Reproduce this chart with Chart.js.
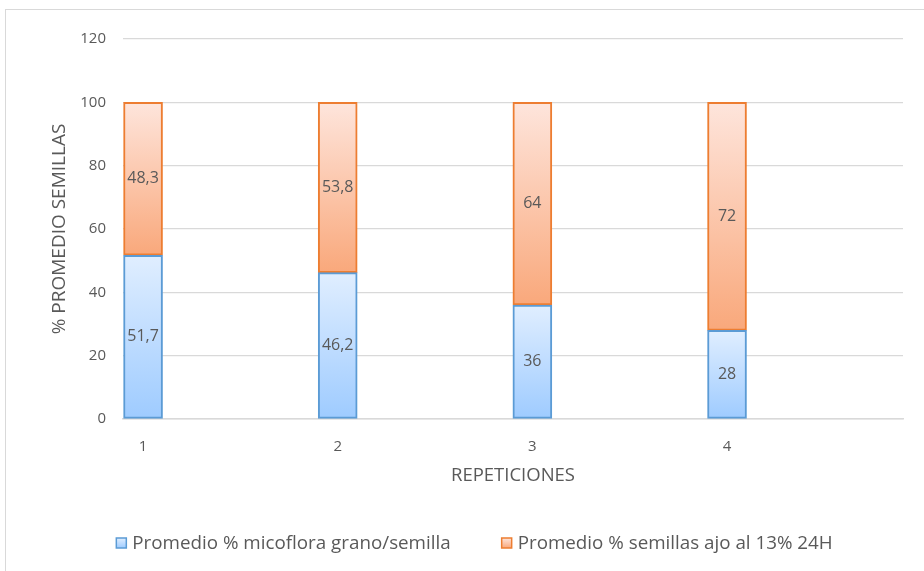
<!DOCTYPE html>
<html>
<head>
<meta charset="utf-8">
<script src="https://cdn.jsdelivr.net/npm/chart.js@4/dist/chart.umd.min.js"></script>
<style>
  html, body { margin: 0; padding: 0; background: #fff; }
  canvas { display: block; }
</style>
</head>
<body>
<canvas id="chart" width="924" height="571"></canvas>
<script>
// Datos del grafico
const repeticiones = [1, 2, 3, 4];
const micoflora = [51.7, 46.2, 36, 28];
const semillasAjo = [48.3, 53.8, 64, 72];
const seriesNames = ['Promedio % micoflora grano/semilla', 'Promedio % semillas ajo al 13% 24H'];
const yMin = 0, yMax = 120, yStep = 20;

const gris = '#595959';
const fuente = '"Open Sans", "Liberation Sans", sans-serif';

// Colores de cada serie: arriba claro, abajo mas intenso
const colores = [
  { top: '#e0eeff', bottom: '#9ecbff', border: '#5b9bd5' },
  { top: '#fee5dc', bottom: '#f9a87b', border: '#ed7d31' }
];

// Degradado vertical por segmento (cada tramo de la columna apilada)
function rellenoSegmento(serie) {
  return ctx => {
    const chart = ctx.chart;
    const y = chart.scales.y;
    const col = colores[serie];
    if (ctx.type !== 'data' || !chart.chartArea || !y) return col.bottom;
    const i = ctx.dataIndex;
    const base = serie === 0 ? 0 : micoflora[i];
    const val = serie === 0 ? micoflora[i] : semillasAjo[i];
    const g = chart.ctx.createLinearGradient(0, y.getPixelForValue(base + val), 0, y.getPixelForValue(base));
    g.addColorStop(0, col.top);
    g.addColorStop(1, col.bottom);
    return g;
  };
}

// Etiquetas de valor centradas en cada segmento
const etiquetasValor = {
  id: 'etiquetasValor',
  afterDatasetsDraw(chart) {
    const c = chart.ctx;
    c.save();
    c.font = '16px ' + fuente;
    c.fillStyle = gris;
    c.textAlign = 'center';
    c.textBaseline = 'middle';
    chart.data.datasets.forEach((ds, di) => {
      chart.getDatasetMeta(di).data.forEach((bar, i) => {
        const { x, y, base } = bar.getProps(['x', 'y', 'base'], true);
        c.fillText(String(ds.data[i].y).replace('.', ','), x, (y + base) / 2);
      });
    });
    c.restore();
  }
};

// Marco del grafico y leyenda inferior
const marcoYLeyenda = {
  id: 'marcoYLeyenda',
  beforeDraw(chart) {
    const c = chart.ctx;
    c.save();
    c.strokeStyle = '#d9d9d9';
    c.lineWidth = 1;
    c.strokeRect(5.5, 9.5, 1200, 900);
    c.restore();
  },
  afterDraw(chart) {
    const c = chart.ctx;
    const caja = 10, hueco = 6, entre = 51, cy = 543, centro = 474.5;
    c.save();
    c.font = '18.8px ' + fuente;
    c.textBaseline = 'middle';
    const anchos = chart.data.datasets.map(ds => caja + hueco + c.measureText(ds.label).width);
    let x = centro - (anchos.reduce((a, b) => a + b, 0) + entre * (anchos.length - 1)) / 2;
    chart.data.datasets.forEach((ds, di) => {
      const col = colores[di];
      const g = c.createLinearGradient(0, cy - caja / 2, 0, cy + caja / 2);
      g.addColorStop(0, col.top);
      g.addColorStop(1, col.bottom);
      c.fillStyle = g;
      c.fillRect(x, cy - caja / 2, caja, caja);
      c.strokeStyle = col.border;
      c.lineWidth = 1.5;
      c.strokeRect(x, cy - caja / 2, caja, caja);
      c.fillStyle = gris;
      c.fillText(ds.label, x + caja + hueco, cy + 1);
      x += anchos[di] + entre;
    });
    c.restore();
  }
};

new Chart(document.getElementById('chart'), {
  type: 'bar',
  data: {
    datasets: [
      {
        label: seriesNames[0],
        data: repeticiones.map((r, i) => ({ x: r, y: micoflora[i] })),
        backgroundColor: rellenoSegmento(0),
        borderColor: colores[0].border,
        borderWidth: 2,
        borderSkipped: false,
        barThickness: 39
      },
      {
        label: seriesNames[1],
        data: repeticiones.map((r, i) => ({ x: r, y: semillasAjo[i] })),
        backgroundColor: rellenoSegmento(1),
        borderColor: colores[1].border,
        borderWidth: 2,
        borderSkipped: false,
        barThickness: 39
      }
    ]
  },
  options: {
    responsive: false,
    animation: false,
    layout: { padding: { left: 48.5, top: 39, right: 21, bottom: 84 } },
    plugins: {
      legend: { display: false },
      tooltip: { enabled: false }
    },
    scales: {
      x: {
        type: 'linear',
        stacked: true,
        offset: false,
        min: 0.897,
        max: 4.904,
        grid: { display: false, offset: false },
        border: { display: true, color: '#d9d9d9', width: 1.5 },
        ticks: {
          stepSize: 1,
          includeBounds: false,
          color: gris,
          font: { family: fuente, size: 15 },
          padding: 11,
          callback: v => repeticiones.includes(v) ? String(v) : ''
        },
        title: {
          display: true,
          text: 'REPETICIONES',
          color: gris,
          font: { family: fuente, size: 18.5 },
          padding: { top: 0, bottom: 0 }
        },
        afterFit: s => { s.height = 68; }
      },
      y: {
        stacked: true,
        min: yMin,
        max: yMax,
        grid: { color: '#d9d9d9', lineWidth: 1.3, drawTicks: false },
        border: { display: false },
        ticks: {
          stepSize: yStep,
          color: gris,
          font: { family: fuente, size: 15 },
          padding: 17
        },
        title: {
          display: true,
          text: '% PROMEDIO SEMILLAS',
          color: gris,
          font: { family: fuente, size: 19 },
          padding: { top: 0, bottom: 0 }
        },
        afterFit: s => { s.width = 74.5; }
      }
    }
  },
  plugins: [marcoYLeyenda, etiquetasValor]
});
</script>
</body>
</html>
